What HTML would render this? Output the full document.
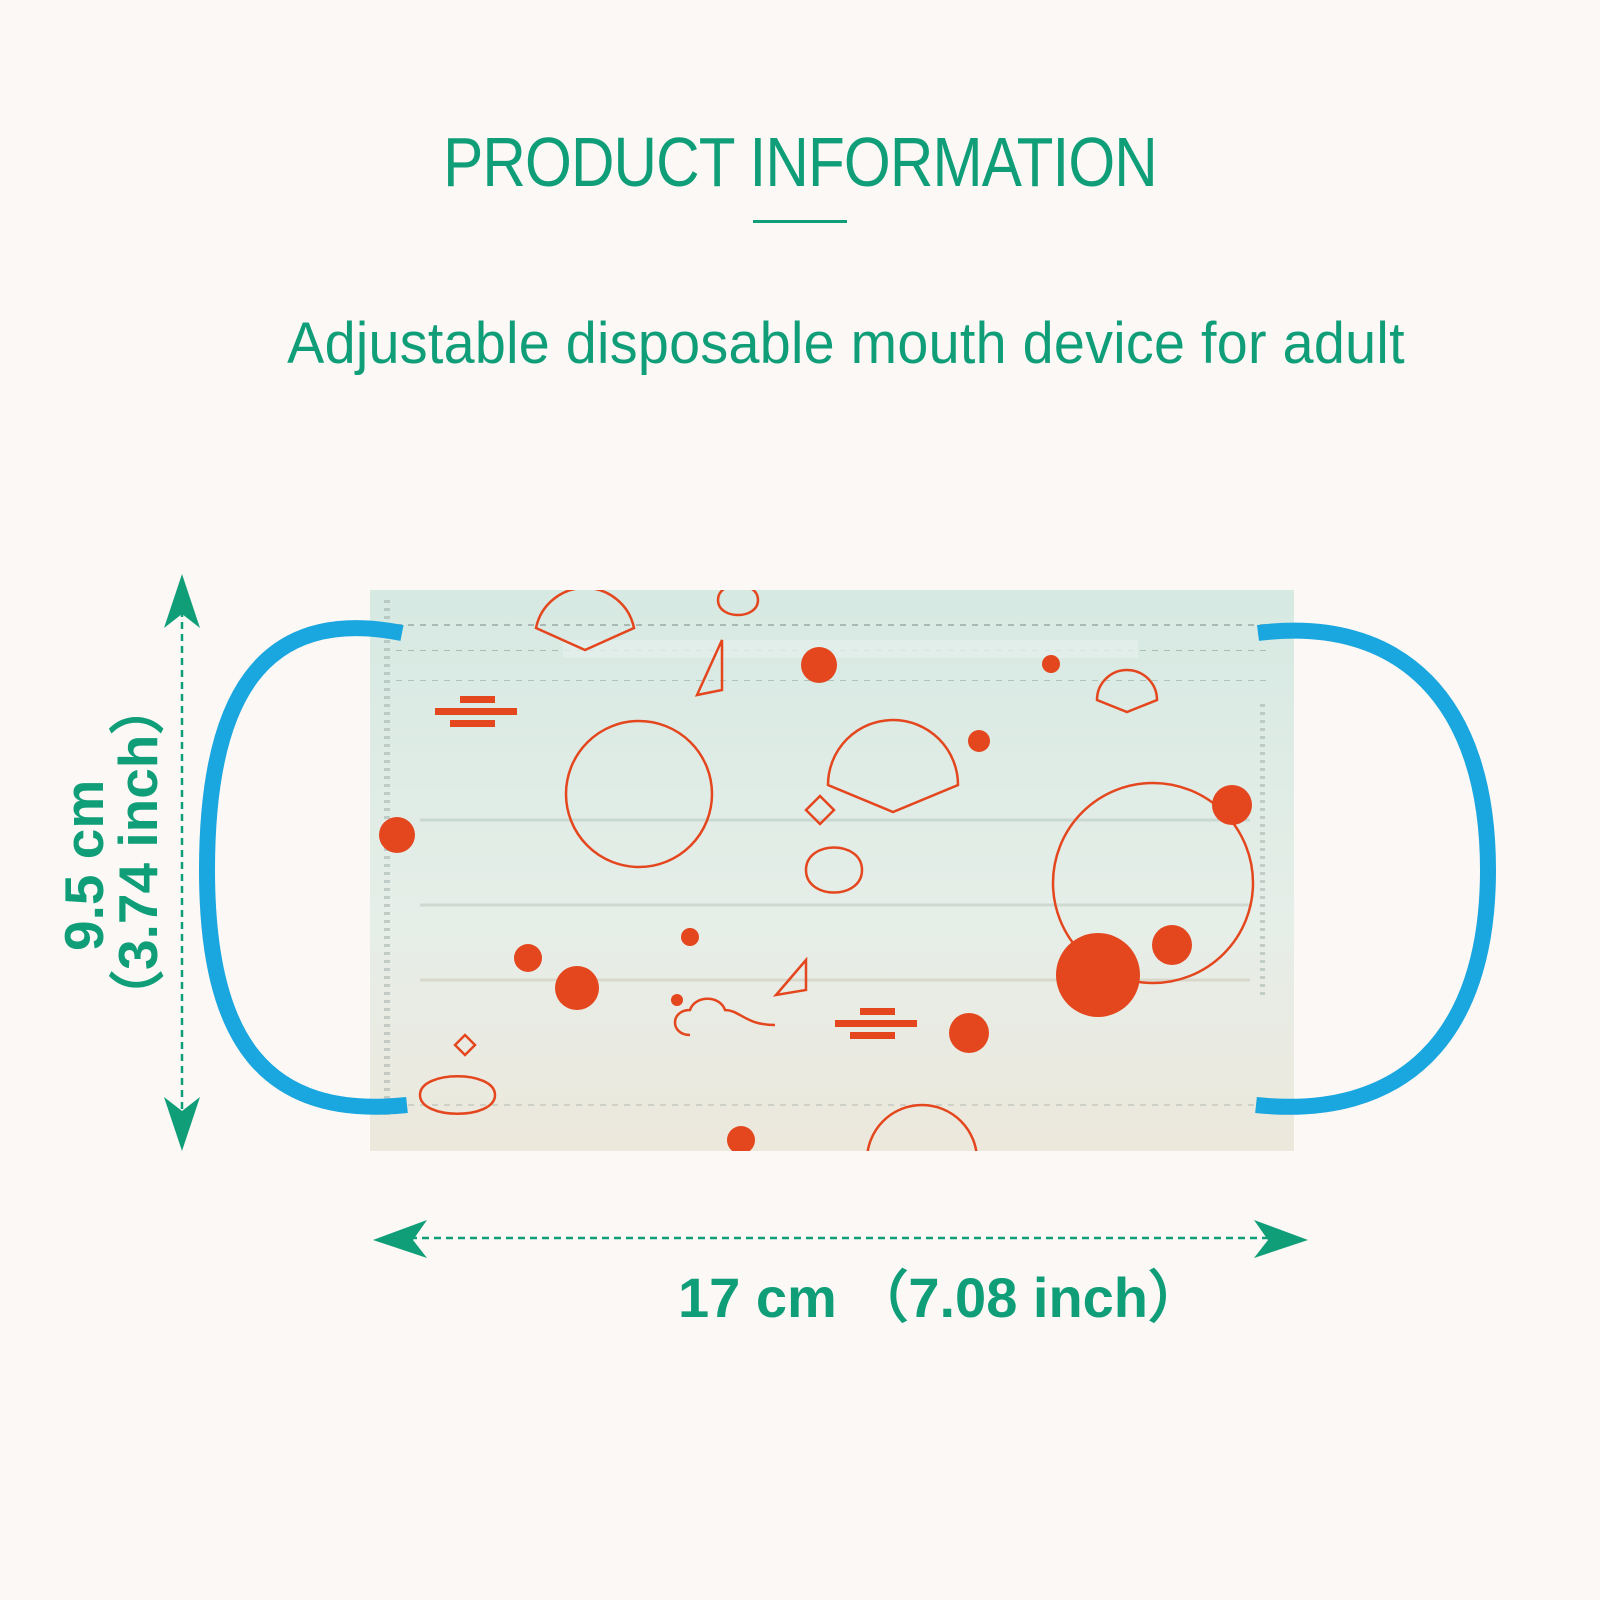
<!DOCTYPE html>
<html><head><meta charset="utf-8"><style>
html,body{margin:0;padding:0;background:#fbf8f6;}
body{width:1600px;height:1600px;position:relative;overflow:hidden;font-family:"Liberation Sans",sans-serif;}
.t{position:absolute;color:#0f9e78;white-space:nowrap;}
</style></head><body>
<div class="t" style="left:0;width:1600px;text-align:center;top:122px;font-size:70px;letter-spacing:-1px;transform:scaleX(0.86);">PRODUCT INFORMATION</div>
<div style="position:absolute;left:753px;top:220px;width:94px;height:3px;background:#0f9e78"></div>
<div class="t" style="left:46px;width:1600px;text-align:center;top:310px;font-size:58px;letter-spacing:0.3px;transform:scaleX(0.96);">Adjustable disposable mouth device for adult</div>

<svg width="1600" height="1600" style="position:absolute;left:0;top:0">
<defs>
<linearGradient id="g" x1="0" y1="0" x2="0" y2="1">
<stop offset="0" stop-color="#d6e9e2"/><stop offset="0.6" stop-color="#e6eee8"/><stop offset="1" stop-color="#ece8dc"/>
</linearGradient>
<pattern id="dots" width="12" height="8" patternUnits="userSpaceOnUse"><rect width="6" height="3" fill="#8a9a96"/></pattern>
<clipPath id="cp"><rect x="370" y="590" width="924" height="561"/></clipPath>
</defs>
<rect x="370" y="590" width="924" height="561" fill="url(#g)"/>
<rect x="390" y="620" width="880" height="6" fill="url(#dots)" opacity="0.6"/>
<rect x="390" y="650" width="880" height="6" fill="url(#dots)" opacity="0.6"/>
<rect x="390" y="675" width="880" height="6" fill="url(#dots)" opacity="0.5"/>
<rect x="380" y="600" width="10" height="520" fill="url(#dots)" opacity="0.4"/>
<rect x="1255" y="700" width="10" height="300" fill="url(#dots)" opacity="0.4"/>
<rect x="390" y="1100" width="870" height="6" fill="url(#dots)" opacity="0.3"/>
<line x1="420" y1="820" x2="1250" y2="820" stroke="#c9d8d2" stroke-width="3"/>
<line x1="420" y1="905" x2="1250" y2="905" stroke="#cfd9d2" stroke-width="3"/>
<line x1="420" y1="980" x2="1250" y2="980" stroke="#d8d8cc" stroke-width="3"/>
<rect x="563" y="640" width="575" height="18" fill="#e4efeb" opacity="0.8"/>
<g clip-path="url(#cp)">
<g fill="none" stroke="#e4461e" stroke-width="2.5">
<circle cx="639" cy="794" r="73"/>
<circle cx="1153" cy="883" r="100"/>
<circle cx="922" cy="1160" r="55"/>
<path d="M828 785 A65 65 0 0 1 958 785 L893 812 Z"/>
<path d="M536 628 A50 50 0 0 1 634 628 L585 650 Z"/>
<path d="M1097 700 A30 30 0 0 1 1157 700 L1127 712 Z"/>
<path d="M806 810 l14 -14 14 14 -14 14z M806 870 c0-30 56-30 56 0 c0 30-56 30-56 0z M806 960 l-30 35 l30 -5 z"/>
<path d="M718 600 c0-20 40-20 40 0 c0 20-40 20-40 0z M722 640 l-25 55 l25 -5 z"/>
<path d="M455 1045 l10 -10 10 10 -10 10z M420 1095 c0-25 75-25 75 0 c0 25-75 25-75 0z"/>
<path d="M690 1035 c-20 0-20-25 0-25 c5-15 30-15 35 0 c15 0 20 15 50 15"/>
</g>
<g fill="#e4461e">
<rect x="435" y="708" width="82" height="7"/><rect x="460" y="696" width="35" height="7"/><rect x="450" y="720" width="45" height="7"/>
<rect x="835" y="1020" width="82" height="7"/><rect x="860" y="1008" width="35" height="7"/><rect x="850" y="1032" width="45" height="7"/>
<circle cx="1098" cy="975" r="42"/>
<circle cx="577" cy="988" r="22"/><circle cx="969" cy="1033" r="20"/><circle cx="819" cy="665" r="18"/>
<circle cx="1232" cy="805" r="20"/><circle cx="1172" cy="945" r="20"/><circle cx="397" cy="835" r="18"/>
<circle cx="528" cy="958" r="14"/><circle cx="979" cy="741" r="11"/><circle cx="690" cy="937" r="9"/>
<circle cx="1051" cy="664" r="9"/><circle cx="741" cy="1140" r="14"/><circle cx="677" cy="1000" r="6"/>
</g>
</g>
<path d="M402 633 C 260 605, 207 700, 207 870 C 207 1040, 265 1120, 407 1105" fill="none" stroke="#1aa6de" stroke-width="16"/>
<path d="M1258 633 C 1400 615, 1488 700, 1488 870 C 1488 1040, 1400 1120, 1256 1105" fill="none" stroke="#1aa6de" stroke-width="16"/>
<line x1="182" y1="610" x2="182" y2="1115" stroke="#0f9e78" stroke-width="2.5" stroke-dasharray="7 5"/>
<polygon points="182,574 164,628 182,614 200,628" fill="#0f9e78"/>
<polygon points="182,1151 164,1097 182,1111 200,1097" fill="#0f9e78"/>
<line x1="410" y1="1238" x2="1270" y2="1238" stroke="#0f9e78" stroke-width="2.5" stroke-dasharray="7 5"/>
<polygon points="373,1240 427,1220 413,1240 427,1258" fill="#0f9e78"/>
<polygon points="1308,1240 1254,1220 1268,1240 1254,1258" fill="#0f9e78"/>
</svg>

<div class="t" style="left:678px;top:1253px;font-size:56px;font-weight:bold;">17 cm <span style="font-weight:bold">（7.08 inch）</span></div>
<div class="t" style="left:-44px;top:816px;width:310px;text-align:left;transform:rotate(-90deg);transform-origin:center;font-size:55px;font-weight:bold;line-height:54px;">
<div style="padding-left:74px">9.5 cm</div><div>（3.74 inch）</div></div>
</body></html>
